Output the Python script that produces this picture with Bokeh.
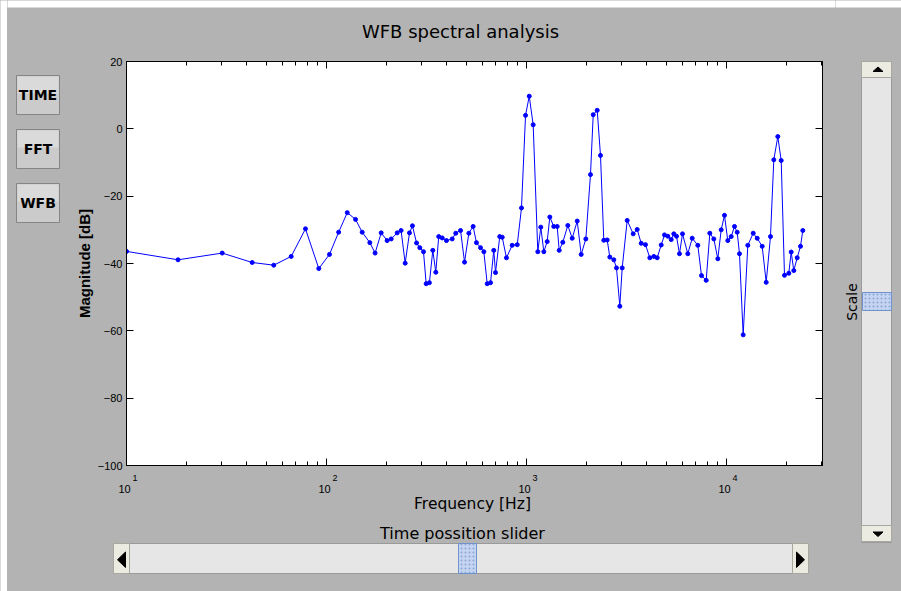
import math
from bokeh.plotting import figure
from bokeh.layouts import row, column
from bokeh.models import Range1d, LinearAxis, LogAxis, FixedTicker, LinearScale
from bokeh.core.properties import value
from bokeh.embed import file_html
from bokeh.resources import INLINE

# ---------------- data ----------------
freq_hz = [10.0, 18.1, 30.1, 42.5, 54.5, 66.6, 78.5, 91.5, 103.5, 115, 127, 139.7, 150.8,
           164.7, 175, 187.7, 201, 210.6, 225.7, 236, 247.4, 260, 269, 282, 292.7, 305.5,
           315, 327, 340, 352, 364, 379, 398, 425, 443, 468, 490, 515, 541, 562, 589, 612,
           636, 661, 686, 700, 735, 756, 794, 848, 899, 944, 989, 1032, 1080, 1139, 1179,
           1221, 1269, 1308, 1369, 1424, 1457, 1519, 1609, 1693, 1793, 1877, 1980, 2089,
           2156, 2257, 2344, 2435, 2532, 2610, 2733, 2818, 2928, 3010, 3188, 3416, 3577,
           3746, 3936, 4136, 4331, 4503, 4716, 4898, 5088, 5291, 5452, 5623, 5821, 6026,
           6405, 6738, 7188, 7499, 7915, 8253, 8642, 9049, 9408, 9772, 10150, 10556, 10965,
           11310, 11614, 12118, 12781, 13600, 14240, 15084, 15794, 16596, 17240, 18052,
           18770, 19498, 20488, 21061, 21700, 22570, 23442, 24073]
mag_db = [-36.4, -38.9, -36.9, -39.7, -40.5, -37.9, -29.7, -41.5, -37.3, -30.7, -24.9, -26.9,
          -30.7, -33.8, -36.9, -30.9, -33.2, -32.7, -30.9, -30.2, -39.9, -30.9, -28.8, -33.9,
          -35.3, -36.5, -46.0, -45.7, -36.1, -42.6, -32.0, -32.4, -33.2, -32.7, -31.0, -30.2,
          -39.6, -31.0, -29.0, -33.8, -35.3, -36.5, -46.0, -45.7, -36.1, -42.7, -32.0, -32.2,
          -38.3, -34.6, -34.4, -23.5, 4.0, 9.7, 1.2, -36.5, -29.2, -36.5, -33.5, -26.2,
          -29.0, -29.0, -36.1, -33.7, -28.7, -32.5, -27.4, -37.3, -32.7, -13.6, 4.2, 5.5,
          -7.9, -33.1, -33.0, -38.1, -38.9, -41.3, -52.7, -41.3, -27.2, -31.2, -29.9, -34.0,
          -34.4, -38.3, -37.9, -38.3, -34.5, -31.5, -31.9, -32.9, -31.2, -31.9, -37.1, -31.2,
          -37.1, -32.5, -34.6, -43.6, -45.0, -31.0, -32.7, -38.6, -30.0, -25.7, -33.2, -32.0,
          -29.0, -30.7, -37.1, -61.2, -34.6, -31.0, -32.5, -34.9, -45.6, -32.0, -9.2, -2.3,
          -9.4, -43.5, -42.9, -36.6, -42.1, -38.3, -34.9, -30.2]

y_ticks = [-100, -80, -60, -40, -20, 0, 20]
x_decades = [10, 100, 1000, 10000]
x_exponents = ["1", "2", "3", "4"]
x_minor = [k * d for d in x_decades for k in range(2, 10) if k * d <= 30200]
buttons = ["TIME", "FFT", "WFB"]

title_text = "WFB spectral analysis"
x_label = "Frequency [Hz]"
y_label = "Magnitude [dB]"
slider_label = "Time possition slider"
scale_label = "Scale"

# ---------------- layout constants (page pixels) ----------------
GREY = "#b3b3b3"
WIN_W, WIN_H = 901, 591
MARGIN = 7                                   # white page margin (left / top)
FX0, FX1, FY0, FY1 = 126, 822, 61, 465       # plot frame
XMIN, XMAX = 10, 30200
TOP_Y1 = 45
MID_Y1 = 470
L_X1 = 60
R_X0 = 835
DEC_PX = (FX1 - FX0) / math.log10(XMAX / XMIN)
BOX_STYLE = {"background-color": GREY}


def draw_panel(f, region):
    """Draw the GUI panel (widgets, texts) in page pixel coordinates."""
    rx0, rx1, ry0, ry1 = region
    kw = dict(x_range_name="px", y_range_name="py")

    def quad(x0, y0, x1, y1, fill, line=None, **extra):
        if x1 < rx0 or x0 > rx1 or y1 < ry0 or y0 > ry1:
            return
        f.quad(left=[x0], right=[x1], top=[y0], bottom=[y1], fill_color=fill,
               line_color=line, line_width=1, **kw, **extra)

    def tri(xs, ys):
        if max(xs) < rx0 or min(xs) > rx1 or max(ys) < ry0 or min(ys) > ry1:
            return
        f.patch(xs, ys, fill_color="black", line_color="black", line_width=1, **kw)

    def txt(x, y, s, size, font="DejaVu Sans", style="normal", angle=0.0):
        if not (rx0 <= x <= rx1 and ry0 <= y <= ry1):
            return
        f.text(x=[x], y=[y], text=[s], text_align="center", text_baseline="middle",
               text_font=value(font), text_font_size=value(size), text_font_style=style,
               angle=angle, text_color="black", **kw)

    # white page margin at the top
    quad(-5, -5, WIN_W + 5, MARGIN, "white")

    # title
    txt(460, 31, title_text, "18px")

    # left buttons
    for i, name in enumerate(buttons):
        top = 75 + 54 * i
        quad(16, top, 59, top + 39, "#cbcbcb", "#858585")
        quad(17, top + 1, 58, top + 18, "#dadada")
        txt(37.5, top + 19.5, name, "14px", style="bold")

    # right scroll bar
    quad(861, 61, 891, 542, "#e6e6e6", "#9a9a9a")
    quad(861, 61, 891, 77, "#ecebe1", "#a8a8a0")
    quad(861, 525, 891, 541, "#ecebe1", "#a8a8a0")
    tri([872.5, 882.5, 877.5], [71, 71, 66.5])
    tri([872.5, 882.5, 877.5], [531.5, 531.5, 536])
    quad(862, 292, 891, 310, "#c5d4f0", "#6f93cc", hatch_pattern=".",
         hatch_color="#8aa6d8", hatch_scale=4)
    txt(851, 301.5, scale_label, "14px", angle=math.pi / 2)

    # bottom slider
    txt(472, 503, x_label, "15.5px")
    txt(462, 533, slider_label, "16px")
    quad(113, 543, 808, 573, "#e6e6e6", "#9a9a9a")
    quad(113, 543, 129, 573, "#ecebe1", "#a8a8a0")
    quad(792, 543, 808, 573, "#ecebe1", "#a8a8a0")
    tri([125, 125, 117], [551.5, 567, 559.3])
    tri([796, 796, 804], [551.5, 567, 559.3])
    quad(458, 543, 476, 573, "#c5d4f0", "#6f93cc", hatch_pattern=".",
         hatch_color="#8aa6d8", hatch_scale=4)


def aux(x0, x1, y0, y1, log_x=False, borders=(0, 0, 0, 0)):
    """Panel piece covering page box (x0..x1, y0..y1); borders = (left, right, top, bottom)."""
    bl, br, bt, bb = borders
    fx0, fx1, fy0, fy1 = x0 + bl, x1 - br, y0 + bt, y1 - bb
    if log_x:
        xr = Range1d(XMIN * 10 ** ((fx0 - FX0) / DEC_PX), XMIN * 10 ** ((fx1 - FX0) / DEC_PX))
        f = figure(x_axis_type="log", x_range=xr, y_range=Range1d(fy1, fy0),
                   width=x1 - x0, height=y1 - y0)
    else:
        f = figure(x_range=Range1d(fx0, fx1), y_range=Range1d(fy1, fy0),
                   width=x1 - x0, height=y1 - y0)
    f.output_backend = "svg"
    f.toolbar_location = None
    f.min_border_left, f.min_border_right = bl, br
    f.min_border_top, f.min_border_bottom = bt, bb
    f.outline_line_color = None
    f.background_fill_color = GREY
    f.border_fill_color = GREY
    for a in list(f.xaxis) + list(f.yaxis):
        a.visible = False
    f.xgrid.visible = False
    f.ygrid.visible = False
    f.extra_x_ranges = {"px": Range1d(fx0, fx1)}
    f.extra_x_scales = {"px": LinearScale()}
    f.extra_y_ranges = {"py": Range1d(fy1, fy0)}
    draw_panel(f, (fx0, fx1, fy0, fy1))
    return f


# ---------------- main plot ----------------
M_X0, M_X1, M_Y0, M_Y1 = L_X1, R_X0, TOP_Y1, MID_Y1
p = figure(width=M_X1 - M_X0, height=M_Y1 - M_Y0, x_axis_type="log",
           x_range=Range1d(XMIN, XMAX), y_range=Range1d(-100, 20),
           output_backend="svg", toolbar_location=None,
           min_border_left=FX0 - M_X0, min_border_right=M_X1 - FX1,
           min_border_top=FY0 - M_Y0, min_border_bottom=M_Y1 - FY1,
           background_fill_color="white", border_fill_color=GREY,
           outline_line_color="black")
p.xgrid.visible = False
p.ygrid.visible = False


def style_axis(ax, labels=True):
    ax.axis_line_color = "black"
    ax.major_tick_line_color = "black"
    ax.minor_tick_line_color = "black"
    ax.major_tick_in = 7
    ax.major_tick_out = 0
    ax.minor_tick_in = 4
    ax.minor_tick_out = 0
    ax.major_label_text_font = "Liberation Sans"
    if labels:
        ax.major_label_text_font_size = "11px"
        ax.major_label_text_color = "black"
        ax.major_label_standoff = 4
    else:
        ax.major_label_text_font_size = "0px"
        ax.major_label_text_color = None
        ax.major_label_standoff = 0


xt = FixedTicker(ticks=x_decades, minor_ticks=x_minor)
yt = FixedTicker(ticks=y_ticks)

bx = p.xaxis[0]
bx.ticker = xt
style_axis(bx, labels=False)
tx = LogAxis(ticker=xt)
style_axis(tx, labels=False)
p.add_layout(tx, "above")

ly = p.yaxis[0]
ly.ticker = yt
style_axis(ly)
ly.minor_tick_line_color = None
ly.axis_label = y_label
ly.axis_label_text_font = "Liberation Sans"
ly.axis_label_text_font_style = "bold"
ly.axis_label_text_font_size = "15px"
ly.axis_label_text_color = "black"
ly.axis_label_standoff = 2
ry = LinearAxis(ticker=yt)
style_axis(ry, labels=False)
ry.minor_tick_line_color = None
p.add_layout(ry, "right")

p.line(freq_hz, mag_db, line_color="#0000ff", line_width=1)
p.scatter(freq_hz, mag_db, size=4, fill_color="#0000ff", line_color="#0000ff")

# ---------------- panel pieces ----------------
margin_fig = figure(width=MARGIN, height=WIN_H, x_range=Range1d(0, 1), y_range=Range1d(0, 1),
                    output_backend="svg", toolbar_location=None, min_border=0,
                    background_fill_color="white", border_fill_color="white",
                    outline_line_color=None, x_axis_location=None, y_axis_location=None)
margin_fig.xgrid.visible = False
margin_fig.ygrid.visible = False

top_fig = aux(MARGIN, R_X0, 0, TOP_Y1)
# the left strip shares the plot's row, so its frame is the plot frame's height
left_fig = aux(MARGIN, L_X1, TOP_Y1, MID_Y1, borders=(0, 0, FY0 - TOP_Y1, MID_Y1 - FY1))
bottom_fig = aux(MARGIN, R_X0, MID_Y1, WIN_H, log_x=True)
right_fig = aux(R_X0, WIN_W, 0, WIN_H)

# x tick labels 10^n through the (log) x scale of the strip below the frame
bottom_fig.text(x=x_decades, y=[488.5] * 4, text=["10"] * 4, y_range_name="py",
                x_offset=-2, text_align="center", text_baseline="middle",
                text_font=value("Liberation Sans"), text_font_size=value("11px"),
                text_color="black")
bottom_fig.text(x=x_decades, y=[477] * 4, text=x_exponents, y_range_name="py",
                x_offset=8.5, text_align="center", text_baseline="middle",
                text_font=value("Liberation Sans"), text_font_size=value("9px"),
                text_color="black")

mid = row(left_fig, p, spacing=0, styles=BOX_STYLE)
left_col = column(top_fig, mid, bottom_fig, spacing=0, styles=BOX_STYLE)
layout = row(margin_fig, left_col, right_fig, spacing=0, styles=BOX_STYLE)

open("out.html", "w").write(file_html(layout, INLINE))
